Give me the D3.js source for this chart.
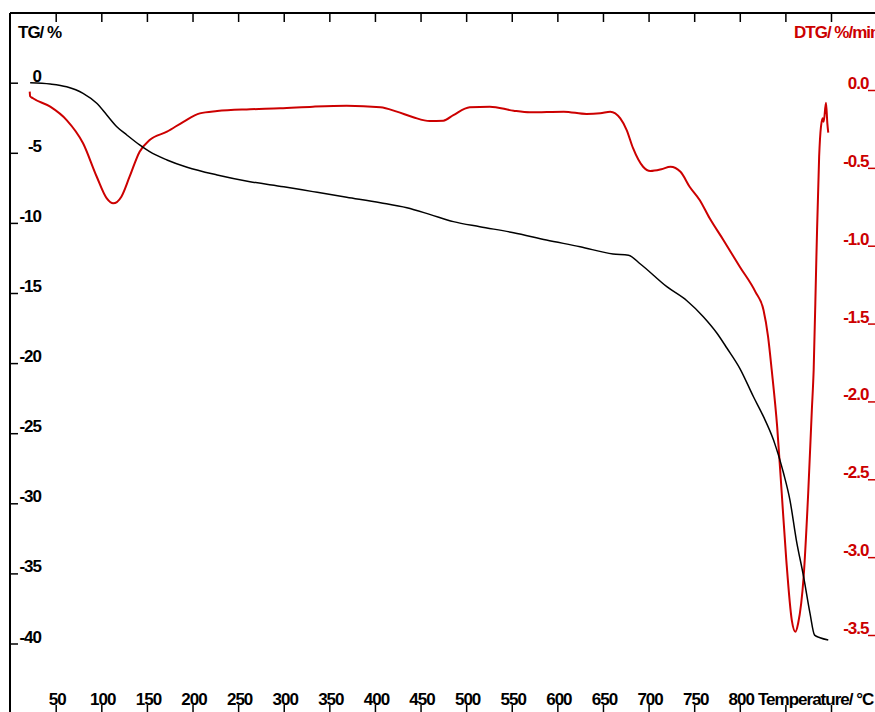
<!DOCTYPE html>
<html>
<head>
<meta charset="utf-8">
<script src="https://cdn.jsdelivr.net/npm/d3@7"></script>
<style>
  html, body { margin: 0; padding: 0; background: #fff; overflow: hidden; }
  svg text { font-family: "Liberation Sans", Arial, sans-serif; font-weight: bold; font-size: 17px; letter-spacing: -1px; }
</style>
</head>
<body>
<svg id="chart" width="875" height="712"></svg>
<script>
// ---- Data ----
const tempTicks = [50,100,150,200,250,300,350,400,450,500,550,600,650,700,750,800,850,900];
const tempLabels = ["50","100","150","200","250","300","350","400","450","500","550","600","650","700","750","800"];
const tgTicks = [0,-5,-10,-15,-20,-25,-30,-35,-40];
const tgLabels = ["0","-5","-10","-15","-20","-25","-30","-35","-40"];
const dtgTicks = [0,-0.5,-1.0,-1.5,-2.0,-2.5,-3.0,-3.5];
const dtgLabels = ["0.0","-0.5","-1.0","-1.5","-2.0","-2.5","-3.0","-3.5"];

// TG curve: temperature (°C), mass change (%)
const tgTemp = [22,44,62,80,95,106,117,128,142,153,172,194,227,263,300,332,369,406,435,460,486,515,552,588,625,661,678,691,720,742,760,775,786,800,815,826,837,848,855,862,870,877,882,888,897];
const tgValue = [0.00,-0.09,-0.29,-0.76,-1.47,-2.30,-3.14,-3.73,-4.44,-4.92,-5.51,-6.03,-6.58,-7.06,-7.42,-7.77,-8.17,-8.56,-8.92,-9.39,-9.91,-10.27,-10.70,-11.22,-11.70,-12.22,-12.31,-12.93,-14.55,-15.55,-16.69,-17.87,-18.94,-20.37,-22.40,-23.82,-25.49,-27.86,-29.77,-32.62,-35.24,-37.85,-39.40,-39.59,-39.75];

// DTG curve: temperature (°C), rate (%/min)
const dtgTemp = [21.5,22,25,44,62,80,95,106,113,122,131,142,153,172,190,208,227,263,296,332,369,406,424,442,460,475,486,504,526,552,570,607,632,647,658,669,676,683,694,702,714,724,735,745,756,767,782,800,817,826,831,835,841,846,851,857,861,864,870,875,879,881,884,887,889,891,892,894.5,896,897];
const dtgValue = [-0.01,-0.04,-0.053,-0.107,-0.193,-0.342,-0.557,-0.696,-0.728,-0.685,-0.557,-0.396,-0.321,-0.268,-0.204,-0.150,-0.135,-0.124,-0.118,-0.107,-0.101,-0.111,-0.139,-0.175,-0.199,-0.197,-0.161,-0.111,-0.107,-0.133,-0.143,-0.139,-0.154,-0.150,-0.139,-0.182,-0.257,-0.374,-0.493,-0.520,-0.509,-0.493,-0.525,-0.621,-0.706,-0.824,-0.963,-1.135,-1.295,-1.413,-1.584,-1.798,-2.163,-2.590,-3.019,-3.404,-3.479,-3.425,-3.126,-2.590,-2.055,-1.798,-1.071,-0.428,-0.236,-0.182,-0.204,-0.082,-0.214,-0.274];

// ---- Layout ----
const svg = d3.select("#chart");
const frameLeft = 10, frameTop = 13, frameBottom = 712, frameRight = 875;
const red = "#cc0000";

const x = d3.scaleLinear().domain([0, 950]).range([10.1, 876.6]);
const yTG = d3.scaleLinear().domain([0, -40]).range([82.7, 643.5]);
const yDTG = d3.scaleLinear().domain([0, -3.5]).range([90, 635]);

// frame
svg.append("line").attr("x1", frameLeft).attr("x2", frameLeft).attr("y1", frameTop).attr("y2", frameBottom + 2)
  .attr("stroke", "#000").attr("stroke-width", 2);
svg.append("line").attr("x1", frameLeft).attr("x2", frameRight + 2).attr("y1", frameTop).attr("y2", frameTop)
  .attr("stroke", "#000").attr("stroke-width", 2);

// top ticks
const topAxis = svg.append("g").attr("transform", `translate(0,${frameTop})`)
  .call(d3.axisBottom(x).tickValues(tempTicks).tickSize(9).tickFormat(""));
topAxis.select(".domain").remove();
topAxis.selectAll("line").attr("stroke", "#000").attr("stroke-width", 1.5);

// bottom ticks
const botAxis = svg.append("g").attr("transform", `translate(0,${frameBottom})`)
  .call(d3.axisTop(x).tickValues(tempTicks).tickSize(7).tickFormat(""));
botAxis.select(".domain").remove();
botAxis.selectAll("line").attr("stroke", "#000").attr("stroke-width", 1.5);
svg.append("g").selectAll("text").data(tempLabels).join("text")
  .attr("x", (d, i) => x(tempTicks[i]) + 1.5).attr("y", 705)
  .attr("text-anchor", "middle").attr("fill", "#000").text(d => d);
svg.append("text").attr("x", 758).attr("y", 705).attr("fill", "#000").text("Temperature/ °C");

// left TG axis
const leftAxis = svg.append("g").attr("transform", `translate(${frameLeft},0)`)
  .call(d3.axisRight(yTG).tickValues(tgTicks).tickSize(8).tickFormat(""));
leftAxis.select(".domain").remove();
leftAxis.selectAll("line").attr("stroke", "#000").attr("stroke-width", 1.5);
svg.append("g").selectAll("text").data(tgLabels).join("text")
  .attr("x", 41).attr("y", (d, i) => yTG(tgTicks[i]) - 1)
  .attr("text-anchor", "end").attr("fill", "#000").text(d => d);
svg.append("text").attr("x", 18).attr("y", 38).attr("fill", "#000").text("TG/ %");

// right DTG axis
const rightAxis = svg.append("g").attr("transform", `translate(${frameRight},0)`)
  .call(d3.axisLeft(yDTG).tickValues(dtgTicks).tickSize(7).tickFormat(""));
rightAxis.select(".domain").remove();
rightAxis.selectAll("line").attr("stroke", red).attr("stroke-width", 1.5);
svg.append("g").selectAll("text").data(dtgLabels).join("text")
  .attr("x", 868.5).attr("y", (d, i) => yDTG(dtgTicks[i]) - 1)
  .attr("text-anchor", "end").attr("fill", red).text(d => d);
svg.append("text").attr("x", 794).attr("y", 38).attr("fill", red).text("DTG/ %/min");

// curves
const tgData = tgTemp.map((t, i) => [t, tgValue[i]]);
const dtgData = dtgTemp.map((t, i) => [t, dtgValue[i]]);

svg.append("path").datum(dtgData)
  .attr("fill", "none").attr("stroke", red).attr("stroke-width", 2).attr("stroke-linejoin", "round")
  .attr("d", d3.line().x(d => x(d[0])).y(d => yDTG(d[1])).curve(d3.curveMonotoneX));

svg.append("path").datum(tgData)
  .attr("fill", "none").attr("stroke", "#000").attr("stroke-width", 1.5).attr("stroke-linejoin", "round")
  .attr("d", d3.line().x(d => x(d[0])).y(d => yTG(d[1])).curve(d3.curveMonotoneX));
</script>
</body>
</html>
